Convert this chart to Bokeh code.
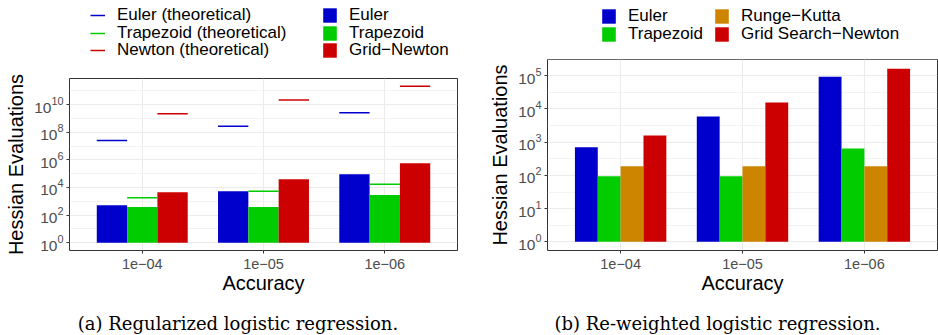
from bokeh.plotting import figure
from bokeh.models import (ColumnDataSource, Range1d, FactorRange, FixedTicker,
                          Legend, LegendItem, Label)
from bokeh.transform import dodge
from bokeh.layouts import row, column
from bokeh.embed import file_html
from bokeh.resources import INLINE

# ---------------- data ----------------
accuracy = ["1e\u221204", "1e\u221205", "1e\u221206"]

# (a) Regularized logistic regression
euler_a = [520, 5400, 90000]
trapezoid_a = [380, 380, 2800]
grid_newton_a = [4600, 40000, 570000]
euler_theo_a = [2.6e7, 2.7e8, 2.6e9]
trapezoid_theo_a = [1800, 5400, 17000]
newton_theo_a = [2.2e9, 2.2e10, 2.2e11]

# (b) Re-weighted logistic regression
euler_b = [700, 5900, 94000]
trapezoid_b = [95, 95, 650]
runge_kutta_b = [190, 190, 190]
grid_search_newton_b = [1600, 15600, 163000]

ticks_a = [1, 1e2, 1e4, 1e6, 1e8, 1e10]
minor_a = [1e1, 1e3, 1e5, 1e7, 1e9, 1e11]
ticks_b = [1, 1e1, 1e2, 1e3, 1e4, 1e5]
minor_b = [10 ** (k + 0.5) for k in range(-1, 6)]

BLUE, GREEN, RED, ORANGE = "#0000CC", "#00CC00", "#CC0000", "#CD8500"
FONT = "Liberation Sans"
W_A, W_B = 470, 468
STRIP_TOP = 58
MAIN_H = 242
STRIP_BOTTOM = 335 - STRIP_TOP - MAIN_H


def make_fig(width, mb_left, mb_right, mb_top, y_lo, y_hi, ticks, minor):
    p = figure(width=width, height=MAIN_H,
               x_range=FactorRange(*accuracy, range_padding=0.1,
                                   range_padding_units="absolute"),
               y_range=Range1d(y_lo, y_hi), y_axis_type="log",
               output_backend="svg", toolbar_location=None,
               min_border_left=mb_left, min_border_right=mb_right,
               min_border_top=mb_top, min_border_bottom=50, frame_align=False)
    p.background_fill_color = "white"
    p.border_fill_color = "white"
    p.outline_line_color = "#333333"
    p.outline_line_width = 1
    p.yaxis.ticker = FixedTicker(ticks=ticks, minor_ticks=minor)
    p.yaxis.axis_label = "Hessian Evaluations"
    p.xaxis.axis_label = "Accuracy"
    for ax in (p.xaxis, p.yaxis):
        ax.axis_label_text_font = FONT
        ax.axis_label_text_font_size = "20px"
        ax.axis_label_text_font_style = "normal"
        ax.axis_label_text_color = "black"
        ax.major_label_text_font = FONT
        ax.major_label_text_color = "#4D4D4D"
        ax.axis_line_color = None
        ax.major_tick_line_color = "#333333"
        ax.major_tick_out = 3
        ax.major_tick_in = 0
        ax.minor_tick_line_color = None
    p.xaxis.major_label_text_font_size = "14.5px"
    p.yaxis.major_label_text_font_size = "15.5px"
    p.xaxis.major_label_standoff = 5
    p.yaxis.major_label_standoff = 2
    p.xaxis.axis_label_standoff = 0
    p.yaxis.axis_label_standoff = 4
    p.xgrid.grid_line_color = "#EBEBEB"
    p.ygrid.grid_line_color = "#EBEBEB"
    p.ygrid.minor_grid_line_color = "#EBEBEB"
    p.ygrid.minor_grid_line_width = 0.6
    return p


def strip(width, height):
    # a frameless band used only for the legends / captions
    s = figure(width=width, height=height, x_range=FactorRange(*accuracy),
               y_range=Range1d(0, 1), output_backend="svg", toolbar_location=None,
               min_border=0, x_axis_location=None, y_axis_location=None,
               frame_align=False)
    s.grid.visible = False
    s.outline_line_color = None
    s.background_fill_color = "white"
    s.border_fill_color = "white"
    return s


# ---------------- figure (a) ----------------
pa = make_fig(W_A, 69, 13, 78 - STRIP_TOP, 10 ** -0.567, 10 ** 11.9, ticks_a, minor_a)
src_a = ColumnDataSource(dict(acc=accuracy, euler=euler_a, trap=trapezoid_a,
                              newton=grid_newton_a, euler_t=euler_theo_a,
                              trap_t=trapezoid_theo_a, newton_t=newton_theo_a))
bw = 0.25
for off, col, color in [(-bw, "euler", BLUE), (0, "trap", GREEN), (bw, "newton", RED)]:
    pa.vbar(x=dodge("acc", off, range=pa.x_range), top=col, bottom=1,
            width=bw, source=src_a, fill_color=color, line_color=None)
for off, col, color in [(-bw, "euler_t", BLUE), (0, "trap_t", GREEN), (bw, "newton_t", RED)]:
    pa.segment(x0=dodge("acc", off - bw / 2, range=pa.x_range),
               x1=dodge("acc", off + bw / 2, range=pa.x_range),
               y0=col, y1=col, source=src_a, line_color=color, line_width=1.5)

# ---------------- figure (b) ----------------
pb = make_fig(W_B, 77, 1, 59 - STRIP_TOP, 10 ** -0.26, 10 ** 5.49, ticks_b, minor_b)
src_b = ColumnDataSource(dict(acc=accuracy, euler=euler_b, trap=trapezoid_b,
                              rk=runge_kutta_b, gsn=grid_search_newton_b))
bw2 = 0.1875
for off, col, color in [(-1.5 * bw2, "euler", BLUE), (-0.5 * bw2, "trap", GREEN),
                        (0.5 * bw2, "rk", ORANGE), (1.5 * bw2, "gsn", RED)]:
    pb.vbar(x=dodge("acc", off, range=pb.x_range), top=col, bottom=1,
            width=bw2, source=src_b, fill_color=color, line_color=None)

# ---------------- legend strip ----------------
top = strip(W_A + W_B, STRIP_TOP)
ROW_H = 20


def legend_item(label, renderer, x, y_top, glyph_w, standoff, glyph_h=18):
    leg = Legend(items=[LegendItem(label=label, renderers=[renderer])],
                 location=(x, STRIP_TOP - y_top - ROW_H), orientation="vertical",
                 glyph_width=glyph_w, glyph_height=glyph_h, label_height=ROW_H,
                 label_standoff=standoff, spacing=0, padding=0, margin=0,
                 border_line_color=None, background_fill_alpha=0,
                 inactive_fill_alpha=0,
                 label_text_font=FONT, label_text_font_size="17px",
                 label_text_color="black")
    top.add_layout(leg)


# legend key renderers: same data, hidden (only their legend keys are shown)
def key_line(src, col, color):
    return top.segment(x0="acc", x1="acc", y0=col, y1=col, source=src,
                       line_color=color, line_width=1.5, visible=False)


def key_box(src, col, color):
    return top.vbar(x="acc", top=col, bottom=1, width=0.2, source=src,
                    fill_color=color, line_color=None, visible=False)


rows_a = [5, 22.5, 40]
for lab, col, color, yt in zip(["Euler (theoretical)", "Trapezoid (theoretical)",
                                "Newton (theoretical)"],
                               ["euler_t", "trap_t", "newton_t"], [BLUE, GREEN, RED], rows_a):
    legend_item(lab, key_line(src_a, col, color), 90, yt, 15, 12)
for lab, col, color, yt in zip(["Euler", "Trapezoid", "Grid\u2212Newton"],
                               ["euler", "trap", "newton"], [BLUE, GREEN, RED], rows_a):
    legend_item(lab, key_box(src_a, col, color), 321, yt, 17, 11)

rows_b = [6, 24]
for lab, col, color, yt in zip(["Euler", "Trapezoid"], ["euler", "trap"],
                               [BLUE, GREEN], rows_b):
    legend_item(lab, key_box(src_b, col, color), 600, yt, 17, 11)
for lab, col, color, yt in zip(["Runge\u2212Kutta", "Grid Search\u2212Newton"],
                               ["rk", "gsn"], [ORANGE, RED], rows_b):
    legend_item(lab, key_box(src_b, col, color), 713, yt, 17, 11)

# ---------------- caption strip ----------------
bot = strip(W_A + W_B, STRIP_BOTTOM)
cap_y = STRIP_BOTTOM - (323 - (STRIP_TOP + MAIN_H))
for txt, cx in [("(a) Regularized logistic regression.", 237.5),
                ("(b) Re-weighted logistic regression.", 717)]:
    bot.add_layout(Label(x=cx, y=cap_y, x_units="screen", y_units="screen",
                         text=txt, text_align="center", text_baseline="middle",
                         text_font="DejaVu Serif", text_font_size="18px",
                         text_color="black"))

layout = column(top, row(pa, pb), bot)
open("out.html", "w").write(file_html(layout, INLINE))
